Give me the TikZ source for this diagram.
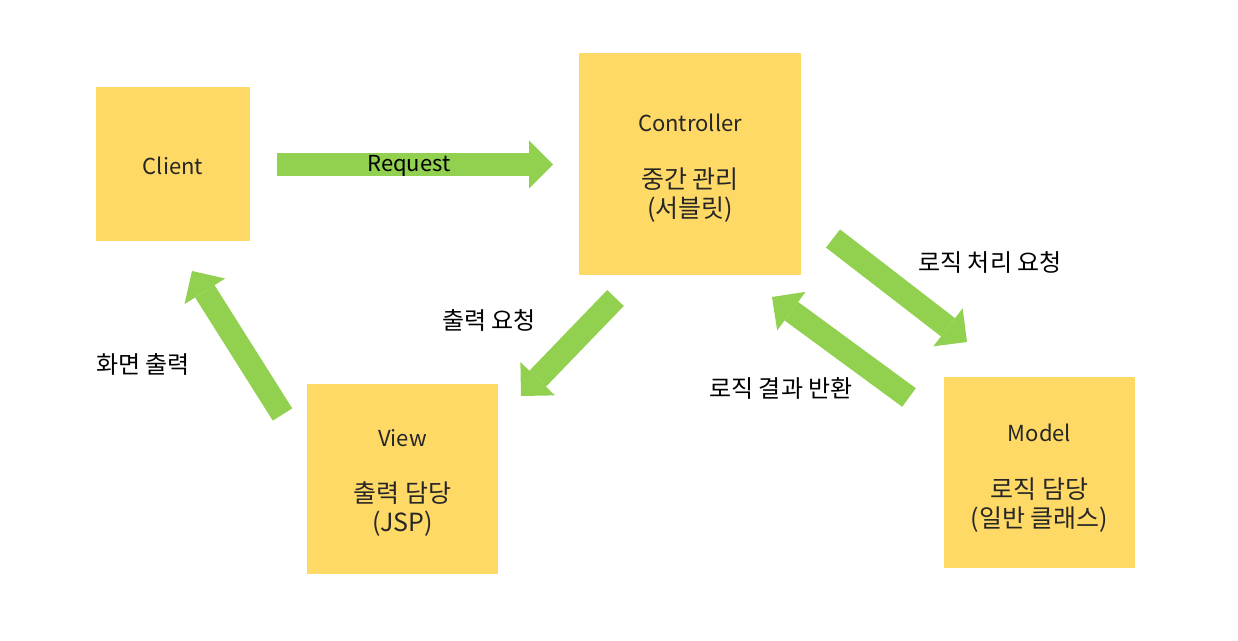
\documentclass[tikz,border=0pt]{standalone}
\usepackage{fontspec}
\setmainfont{Noto Sans CJK KR}
\usetikzlibrary{arrows.meta}
\definecolor{boxyellow}{RGB}{255,217,102}
\definecolor{arrowgreen}{RGB}{146,208,80}
\definecolor{txtgray}{RGB}{38,38,38}
\newcommand{\korbig}{\fontsize{12.5}{15}\selectfont}

\begin{document}
\begin{tikzpicture}[x = 0.5pt, y = -0.5pt,
    box/.style = {rectangle, fill = boxyellow, inner sep = 0pt},
    boxtxt/.style = {inner sep = 0pt, align = center, text = txtgray, font = \fontsize{11}{14.5}\selectfont},
    anno/.style = {draw = arrowgreen, line width = 11.5pt, -{Triangle[length = 12pt, width = 24pt, line width = 0pt]}},
    lbl/.style = {inner sep = 0pt, font = \fontsize{12}{14}\selectfont}]
    \useasboundingbox (0,0) rectangle (1238,641);

    % boxes
    \node[box, minimum width = 77pt, minimum height = 77pt] (client) at (173,164) {};
    \node[box, minimum width = 111pt, minimum height = 111pt] (ctrl) at (690,164) {};
    \node[box, minimum width = 95.5pt, minimum height = 95pt] (view) at (402.5,479) {};
    \node[box, minimum width = 95.5pt, minimum height = 95.5pt] (model) at (1039.5,472.5) {};

    % box texts
    \node[boxtxt] (client-t) at (173,166) {Client};
    \node[boxtxt] (ctrl-t) at (690,168.5) {Controller\\[14pt]\korbig 중간 관리\\\korbig (서블릿)};
    \node[boxtxt] (view-t) at (402.5,483) {View\\[13.5pt]\korbig 출력 담당\\\korbig (JSP)};
    \node[boxtxt] (model-t) at (1039.5,478) {Model\\[14pt]\korbig 로직 담당\\\korbig (일반 클래스)};

    % arrow ends
    \coordinate (rq-s) at (277,164.5);
    \coordinate (rq-e) at (553,164.5);
    \coordinate (cv-s) at (615.5,298);
    \coordinate (cv-e) at (521,396);
    \coordinate (vc-s) at (282.5,414.5);
    \coordinate (vc-e) at (192,271);
    \coordinate (cm-s) at (833,238.5);
    \coordinate (cm-e) at (967,342);
    \coordinate (mc-s) at (909,397.5);
    \coordinate (mc-e) at (772,297);

    \draw [anno] (rq-s) to (rq-e);
    \draw [anno] (cv-s) to (cv-e);
    \draw [anno] (vc-s) to (vc-e);
    \draw [anno] (cm-s) to (cm-e);
    \draw [anno] (mc-s) to (mc-e);

    % labels
    \node[lbl, font = \fontsize{11}{14}\selectfont] (l-rq) at (409,166) {Request};
    \node[lbl] (l-cv) at (489,320) {출력 요청};
    \node[lbl] (l-vc) at (143,364) {화면 출력};
    \node[lbl] (l-cm) at (990,262) {로직 처리 요청};
    \node[lbl] (l-mc) at (781,388) {로직 결과 반환};
\end{tikzpicture}
\end{document}
